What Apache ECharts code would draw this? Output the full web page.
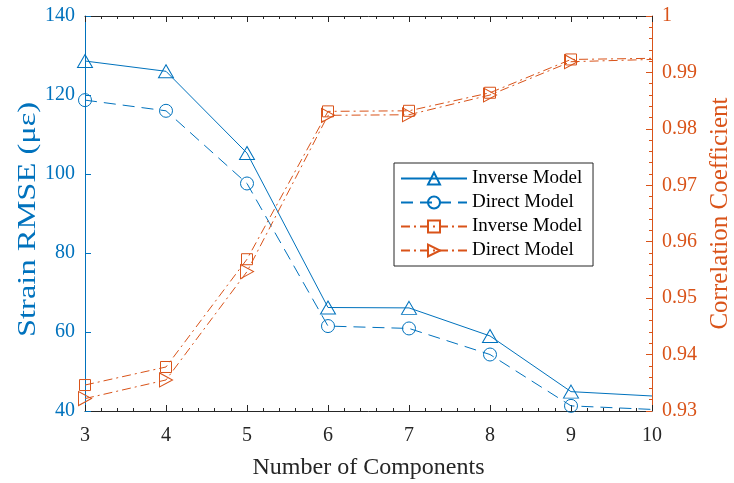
<!DOCTYPE html>
<html>
<head>
<meta charset="utf-8">
<script src="https://cdn.jsdelivr.net/npm/echarts@6/dist/echarts.min.js"></script>
<style>html,body{margin:0;padding:0;background:#fff;}#c{width:734px;height:483px;}</style>
</head>
<body>
<div id="c"></div>
<script>
const components = [3, 4, 5, 6, 7, 8, 9, 10];
const rmseInverse = [128.6, 126.0, 105.3, 66.2, 66.1, 59.0, 44.9, 43.8];
const rmseDirect = [118.7, 116.0, 97.6, 61.5, 60.9, 54.3, 41.3, 40.4];
const corrInverse = [0.9346, 0.9378, 0.9569, 0.9831, 0.9832, 0.9864, 0.9923, 0.9925];
const corrDirect = [0.9322, 0.9355, 0.9547, 0.9824, 0.9825, 0.9860, 0.9919, 0.9923];
const leftTicks = [40, 60, 80, 100, 120, 140];
const rightTicks = [0.93, 0.94, 0.95, 0.96, 0.97, 0.98, 0.99, 1];
const markerShown = [true, true, true, true, true, true, true, false];

const BLUE = '#0072BD', ORANGE = '#D95319', DARK = '#262626';
const FONT = '"Liberation Serif", "Times New Roman", serif';
const pairs = ys => components.map((x, i) => markerShown[i] ? [x, ys[i]] : {value: [x, ys[i]], symbol: 'none'});

const chart = echarts.init(document.getElementById('c'), null, {renderer: 'canvas'});
function mkSeries(name, ys, yIdx, color, symbol, size, rotate, dash) {
  return {
    name: name, type: 'line', xAxisIndex: 0, yAxisIndex: yIdx, data: pairs(ys),
    symbol: symbol, symbolSize: size, symbolRotate: rotate, showAllSymbol: true,
    lineStyle: {color: color, width: 1, type: dash},
    itemStyle: {color: 'rgba(255,255,255,0)', borderColor: color, borderWidth: 1},
    emphasis: {disabled: true}, animation: false, z: 3
  };
}
chart.setOption({
  animation: false,
  backgroundColor: '#fff',
  grid: {left: 85, right: 82, top: 16, bottom: 72, containLabel: false, outerBoundsMode: 'none'},
  legend: {
    orient: 'vertical', left: 394, top: 163,
    data: ['Inverse Model', 'Direct Model', 'Inverse Model ', 'Direct Model '],
    itemWidth: 66, itemHeight: 15, itemGap: 5,
    padding: [6, 6, 6, 6],
    borderColor: DARK, borderWidth: 1, backgroundColor: '#fff',
    textStyle: {fontFamily: FONT, fontSize: 19, color: '#000'},
    selectedMode: false
  },
  graphic: [{
    type: 'text', x: 28, y: 337, rotation: Math.PI / 2, scaleX: 1.3,
    style: {text: 'Strain RMSE (με)', fontFamily: FONT, fontSize: 25, fill: BLUE,
      align: 'left', verticalAlign: 'middle'}
  }],
  xAxis: [{
    type: 'value', min: 3, max: 10, interval: 1, position: 'bottom',
    name: 'Number of Components', nameLocation: 'middle', nameGap: 45,
    nameTextStyle: {fontFamily: FONT, fontSize: 24, color: DARK},
    axisLine: {show: true, lineStyle: {color: DARK, width: 1}},
    axisTick: {show: true, inside: true, length: 6, lineStyle: {color: DARK}},
    minorTick: {show: true, splitNumber: 5, length: 3, lineStyle: {color: DARK}},
    axisLabel: {fontFamily: FONT, fontSize: 20, color: DARK, margin: 15},
    splitLine: {show: false}
  }, {
    type: 'value', min: 3, max: 10, interval: 1, position: 'top',
    axisLine: {show: true, lineStyle: {color: DARK, width: 1}},
    axisTick: {show: true, inside: true, length: 6, lineStyle: {color: DARK}},
    minorTick: {show: true, splitNumber: 5, length: 3, lineStyle: {color: DARK}},
    axisLabel: {show: false}, splitLine: {show: false}
  }],
  yAxis: [{
    type: 'value', min: leftTicks[0], max: leftTicks[leftTicks.length - 1], interval: 20, position: 'left',
    axisLine: {show: true, lineStyle: {color: BLUE, width: 1}},
    axisTick: {show: true, inside: true, length: 6, lineStyle: {color: BLUE}},
    axisLabel: {fontFamily: FONT, fontSize: 20, color: BLUE, margin: 10},
    splitLine: {show: false}
  }, {
    type: 'value', min: rightTicks[0], max: rightTicks[rightTicks.length - 1], interval: 0.01, position: 'right',
    name: 'Correlation Coefficient', nameLocation: 'middle', nameGap: 56, nameRotate: 90,
    nameTextStyle: {fontFamily: FONT, fontSize: 25, color: ORANGE},
    axisLine: {show: true, lineStyle: {color: ORANGE, width: 1}},
    axisTick: {show: true, inside: true, length: 6, lineStyle: {color: ORANGE}},
    minorTick: {show: true, splitNumber: 5, length: 3, lineStyle: {color: ORANGE}},
    axisLabel: {fontFamily: FONT, fontSize: 20, color: ORANGE, margin: 10,
      formatter: v => String(+v.toFixed(2))},
    splitLine: {show: false}
  }],
  series: [
    mkSeries('Inverse Model', rmseInverse, 0, BLUE, 'triangle', [15, 13], 0, 'solid'),
    mkSeries('Direct Model', rmseDirect, 0, BLUE, 'circle', 13, 0, [12, 7]),
    mkSeries('Inverse Model ', corrInverse, 1, ORANGE, 'rect', 11, 0, [9, 4, 2, 4]),
    mkSeries('Direct Model ', corrDirect, 1, ORANGE, 'triangle', [14, 13], -90, [9, 4, 2, 4])
  ]
});
</script>
</body>
</html>
